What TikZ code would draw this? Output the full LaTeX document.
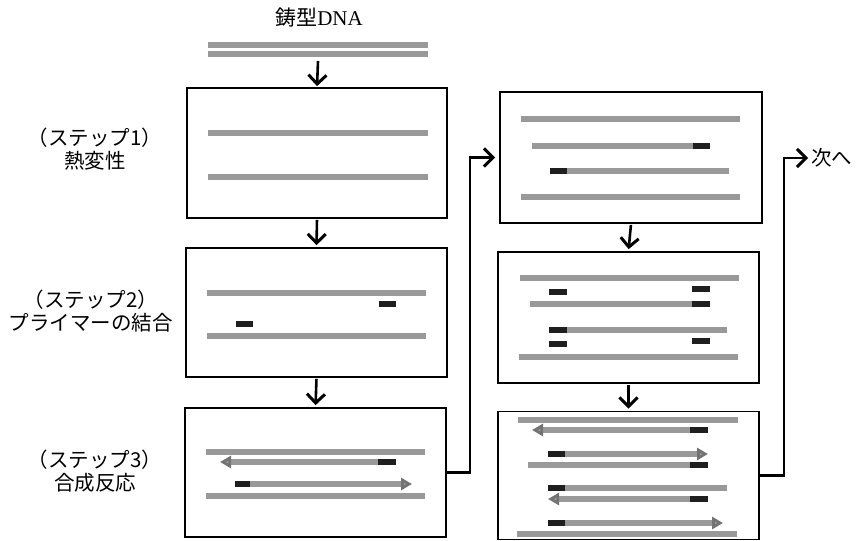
\documentclass[tikz,border=0pt]{standalone}
\usepackage{fontspec}
\setmainfont{Liberation Serif}
\newfontfamily\jp{Noto Sans CJK JP}
\usetikzlibrary{arrows.meta}
\tikzset{
  box/.style={draw, line width=1.8pt, inner sep=0pt},
  strand/.style={line width=5.5pt, draw=black!40},
  primer/.style={line width=5.5pt, draw=black!88},
  synth/.style={strand, -{Triangle[length=11pt,width=12pt,fill=black!40,color=black!55]}},
  flow/.style={line width=2.6pt, -{Straight Barb[length=9pt,width=18pt,line width=3pt]}},
  lbl/.style={font=\jp\fontsize{20.5}{23}\selectfont, align=center, inner sep=0pt},
}
\begin{document}
\begin{tikzpicture}[x=1pt,y=-1pt]
\useasboundingbox (0,0) rectangle (860,541);
% title and template
\node[inner sep=0pt, font=\fontsize{21}{24}\selectfont] (title) at (319,18) {{\jp 鋳型}DNA};
\draw[strand] (208,45) -- (428,45);
\draw[strand] (208,54) -- (428,54);
\coordinate (tmpl) at (318,61);
% boxes
\node[box, minimum width=260pt, minimum height=130pt] (b1) at (317,153) {};
\node[box, minimum width=261pt, minimum height=129pt] (b2) at (316.5,312.5) {};
\node[box, minimum width=261pt, minimum height=129pt] (b3) at (315.5,472.5) {};
\node[box, minimum width=262pt, minimum height=131pt] (b4) at (631,157.5) {};
\node[box, minimum width=261pt, minimum height=131pt] (b5) at (628.5,317.5) {};
\node[box, minimum width=261pt, minimum height=128pt] (b6) at (628.5,475.5) {};
% labels
\node[lbl] (s1) at (95,149) {（ステップ1）\\熱変性};
\node[lbl] (s2) at (91,311) {（ステップ2）\\プライマーの結合};
\node[lbl] (s3) at (95,471) {（ステップ3）\\合成反応};
\node[lbl, anchor=west] (next) at (811,158) {次へ};
% flow arrows
\draw[flow, shorten >=1pt] (tmpl) -- (b1.north);
\draw[flow, shorten <=1pt, shorten >=2pt] (b1.south) -- (b2.north);
\draw[flow, shorten <=1pt, shorten >=2pt] (b2.south) -- (b3.north);
\draw[flow, shorten <=1pt, shorten >=2pt] (b4.south) -- (b5.north);
\draw[flow, shorten <=1pt, shorten >=2pt] (b5.south) -- (b6.north);
\draw[flow, shorten >=4pt] (b3.east) -- ++(23,0) |- (b4.west);
\draw[flow, shorten >=3pt] (b6.east) -- ++(24,0) |- (next.west);
% box 1
\draw[strand] (208,133) -- (428,133);
\draw[strand] (208,177) -- (428,177);
% box 2
\draw[strand] (207,293) -- (426,293);
\draw[primer] (379,304) -- (396,304);
\draw[primer] (236,324) -- (253,324);
\draw[strand] (207,336) -- (426,336);
% box 3
\draw[strand] (206,452) -- (425,452);
\draw[synth] (396,462) -- (220,462);
\draw[primer] (378,462) -- (396,462);
\draw[synth] (235,484) -- (412,484);
\draw[primer] (235,484) -- (250,484);
\draw[strand] (206,496) -- (425,496);
% box 4
\draw[strand] (521,119) -- (740,119);
\draw[strand] (532,146) -- (710,146);
\draw[primer] (693,146) -- (710,146);
\draw[strand] (550,171) -- (729,171);
\draw[primer] (550,171) -- (567,171);
\draw[strand] (521,197) -- (740,197);
% box 5
\draw[strand] (520,278) -- (739,278);
\draw[primer] (549,292) -- (567,292);
\draw[primer] (692,289) -- (710,289);
\draw[strand] (530,304) -- (710,304);
\draw[primer] (692,304) -- (710,304);
\draw[strand] (549,330) -- (727,330);
\draw[primer] (549,330) -- (567,330);
\draw[primer] (692,341) -- (710,341);
\draw[primer] (549,344) -- (567,344);
\draw[strand] (519,357) -- (738,357);
% box 6
\draw[strand] (518,420) -- (738,420);
\draw[synth] (708,430) -- (532,430);
\draw[primer] (690,430) -- (708,430);
\draw[synth] (548,454) -- (708,454);
\draw[primer] (548,454) -- (565,454);
\draw[strand] (528,465) -- (708,465);
\draw[primer] (690,465) -- (708,465);
\draw[strand] (548,488) -- (727,488);
\draw[primer] (548,488) -- (565,488);
\draw[synth] (708,499) -- (548,499);
\draw[primer] (690,499) -- (708,499);
\draw[synth] (548,523) -- (723,523);
\draw[primer] (548,523) -- (565,523);
\draw[strand] (517,534) -- (737,534);
\end{tikzpicture}
\end{document}
